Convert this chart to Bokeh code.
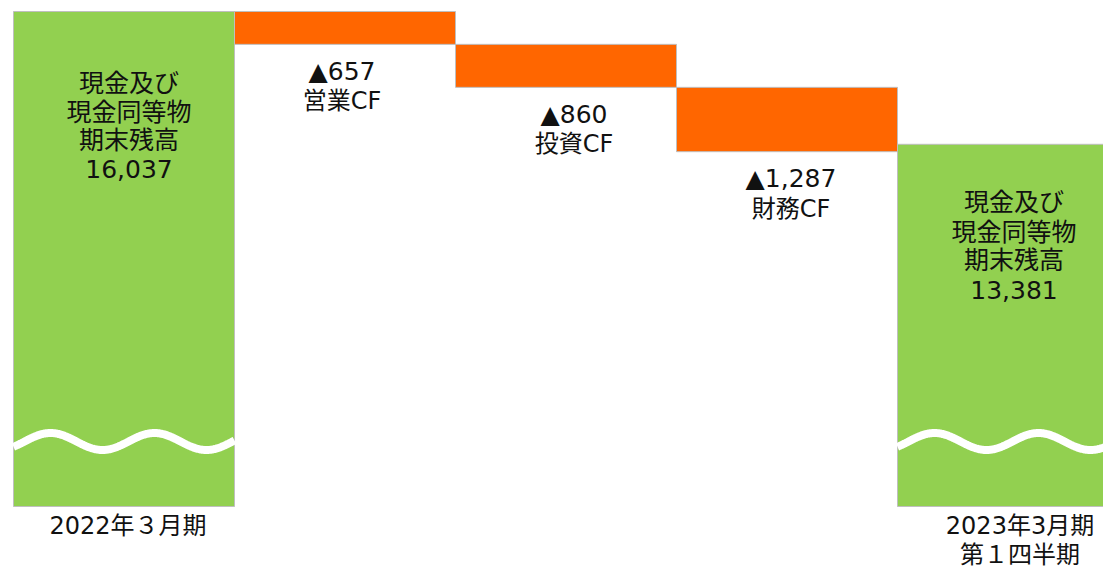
import numpy as np
from bokeh.plotting import figure
from bokeh.models import Range1d
from bokeh.core.properties import value
from bokeh.embed import file_html
from bokeh.resources import INLINE

# ---- data ----
start_balance = 16037
cf_labels = ["営業CF", "投資CF", "財務CF"]
cf_values = [-657, -860, -1287]
end_balance = 13381
balance_title = ["現金及び", "現金同等物", "期末残高"]
start_period = ["2022年３月期"]
end_period = ["2023年3月期", "第１四半期"]

# ---- layout constants ----
W, H = 1103, 569
UPX = 20.0                      # data units per pixel (vertical)
Y_TOP = start_balance + 11 * UPX
Y_BOT = Y_TOP - H * UPX
BASE = Y_TOP - 506 * UPX        # visual base of truncated (broken-axis) bars
BREAK = Y_TOP - 441 * UPX       # level of the axis-break wave
X0 = -0.5 - 13 / 221
X1 = X0 + W / 221
FONT = value("DejaVu Sans, Noto Sans CJK JP")
GREEN = "#92D050"
ORANGE = "#FF6600"

p = figure(width=W, height=H, output_backend="svg", toolbar_location=None,
           x_range=Range1d(X0, X1), y_range=Range1d(Y_BOT, Y_TOP),
           min_border=0, min_border_left=0, min_border_right=0,
           min_border_top=0, min_border_bottom=0)
p.xaxis.visible = False
p.yaxis.visible = False
p.grid.visible = False
p.outline_line_color = None
p.background_fill_color = "white"

# ---- waterfall geometry ----
n = len(cf_values)
end_idx = n + 1
cf_top, cf_bot = [], []
running = start_balance
for v in cf_values:
    cf_top.append(running)
    running += v
    cf_bot.append(running)
cf_x = list(range(1, n + 1))

# balance bars
p.quad(left=[-0.5, end_idx - 0.5], right=[0.5, end_idx + 0.5],
       top=[start_balance, end_balance], bottom=[BASE, BASE],
       fill_color=GREEN, line_color="#BFBFBF", line_width=1)
# cash-flow bars
p.quad(left=[x - 0.5 for x in cf_x], right=[x + 0.5 for x in cf_x],
       top=cf_top, bottom=cf_bot,
       fill_color=ORANGE, line_color="#BFBFBF", line_width=1)

# axis-break waves (decoration)
period = 104 / 221
peak_off = 37 / 221
amp = 8.5 * UPX
for i in [0, end_idx]:
    xs = np.linspace(i - 0.5, i + 0.5, 300)
    ys = BREAK + amp * np.cos(2 * np.pi * (xs - (i - 0.5) - peak_off) / period)
    p.line(xs, ys, line_color="white", line_width=8)

def put(x, y, s, size="24px", dx=0):
    p.text(x=[x], y=[y], text=[s], text_font=FONT, text_font_size=size,
           text_align="center", text_baseline="middle", text_color="#111111",
           x_offset=dx)

# balance labels
left_off = [72, 101, 129, 157]
right_off = [58, 88, 116, 146]
for k, t in enumerate(balance_title + [f"{start_balance:,}"]):
    put(0, start_balance - left_off[k] * UPX, t, size="25px", dx=5)
for k, t in enumerate(balance_title + [f"{end_balance:,}"]):
    put(end_idx, end_balance - right_off[k] * UPX, t, size="25px", dx=6)

# cash-flow labels
label_dx = [-3, 8, 4]
for x, b, v, lab, dx in zip(cf_x, cf_bot, cf_values, cf_labels, label_dx):
    put(x, b - 27 * UPX, f"▲{abs(v):,}", size="25px", dx=dx)
    put(x, b - 57 * UPX, lab, dx=dx)

# period labels
for k, t in enumerate(start_period):
    put(0, Y_TOP - (525 + 29 * k) * UPX, t, dx=4)
for k, t in enumerate(end_period):
    put(end_idx, Y_TOP - (525 + 29 * k) * UPX, t, dx=12)

open("out.html", "w").write(file_html(p, INLINE))
